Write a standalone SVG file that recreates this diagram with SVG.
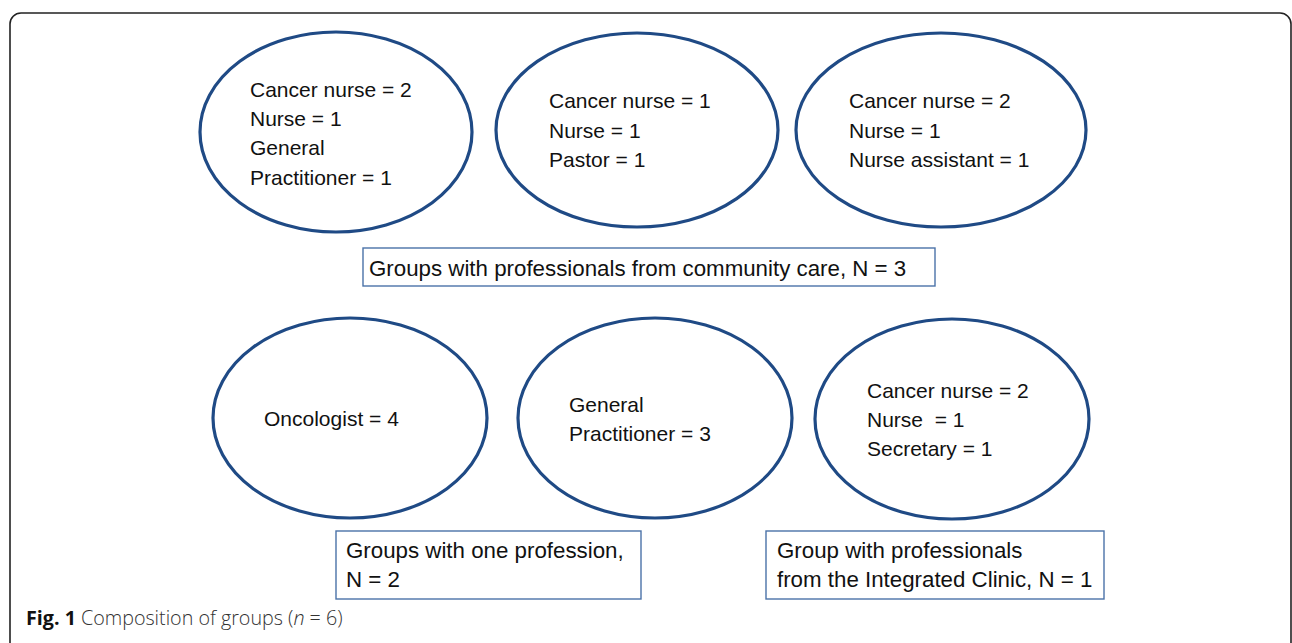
<svg xmlns="http://www.w3.org/2000/svg" width="1292" height="643" viewBox="0 0 1292 643">
<style>
.frame{fill:none;stroke:#222;stroke-width:1.6}
.ell{fill:#fff;stroke:#1f4a85;stroke-width:3.2}
.box{fill:#fff;stroke:#4a72a8;stroke-width:1.4}
.t{font-family:"Liberation Sans",Arial,sans-serif;font-size:21px;fill:#111}
.bt{font-family:"Liberation Sans",Arial,sans-serif;font-size:22.3px;fill:#111}
.cap{font-family:"Open Sans","Liberation Sans",sans-serif;font-size:19.7px;fill:#333;font-weight:300}
.capb{font-weight:700;fill:#111}
</style>
<rect class="frame" x="10" y="13" width="1281" height="660" rx="11" ry="11"/>
<g id="node-g1">
<ellipse class="ell" cx="336" cy="132" rx="136" ry="100"/>
<text class="t" x="250" y="97">Cancer nurse = 2</text>
<text class="t" x="250" y="126">Nurse = 1</text>
<text class="t" x="250" y="155">General</text>
<text class="t" x="250" y="185">Practitioner = 1</text>
</g>
<g id="node-g2">
<ellipse class="ell" cx="637" cy="130" rx="141" ry="97"/>
<text class="t" x="549" y="108">Cancer nurse = 1</text>
<text class="t" x="549" y="138">Nurse = 1</text>
<text class="t" x="549" y="167">Pastor = 1</text>
</g>
<g id="node-g3">
<ellipse class="ell" cx="941" cy="130" rx="145" ry="97"/>
<text class="t" x="849" y="108">Cancer nurse = 2</text>
<text class="t" x="849" y="138">Nurse = 1</text>
<text class="t" x="849" y="167">Nurse assistant = 1</text>
</g>
<g id="node-community">
<rect class="box" x="363" y="248" width="572" height="38"/>
<text class="bt" x="369" y="276">Groups with professionals from community care, N = 3</text>
</g>
<g id="node-g4">
<ellipse class="ell" cx="350" cy="418" rx="137" ry="100"/>
<text class="t" x="264" y="426">Oncologist = 4</text>
</g>
<g id="node-g5">
<ellipse class="ell" cx="655" cy="418" rx="137" ry="100"/>
<text class="t" x="569" y="412">General</text>
<text class="t" x="569" y="441">Practitioner = 3</text>
</g>
<g id="node-g6">
<ellipse class="ell" cx="952" cy="419" rx="137" ry="100"/>
<text class="t" x="867" y="398">Cancer nurse = 2</text>
<text class="t" x="867" y="427">Nurse&#160; = 1</text>
<text class="t" x="867" y="456">Secretary = 1</text>
</g>
<g id="node-one">
<rect class="box" x="336" y="531" width="305" height="68"/>
<text class="bt" x="346" y="558">Groups with one profession,</text>
<text class="bt" x="346" y="587">N = 2</text>
</g>
<g id="node-integrated">
<rect class="box" x="766" y="531" width="338" height="68"/>
<text class="bt" x="777" y="558">Group with professionals</text>
<text class="bt" x="777" y="587">from the Integrated Clinic, N = 1</text>
</g>
<g id="connectors"></g>
<text class="cap" x="26" y="625"><tspan class="capb">Fig. 1</tspan> Composition of groups (<tspan font-style="italic">n</tspan> = 6)</text>
</svg>
